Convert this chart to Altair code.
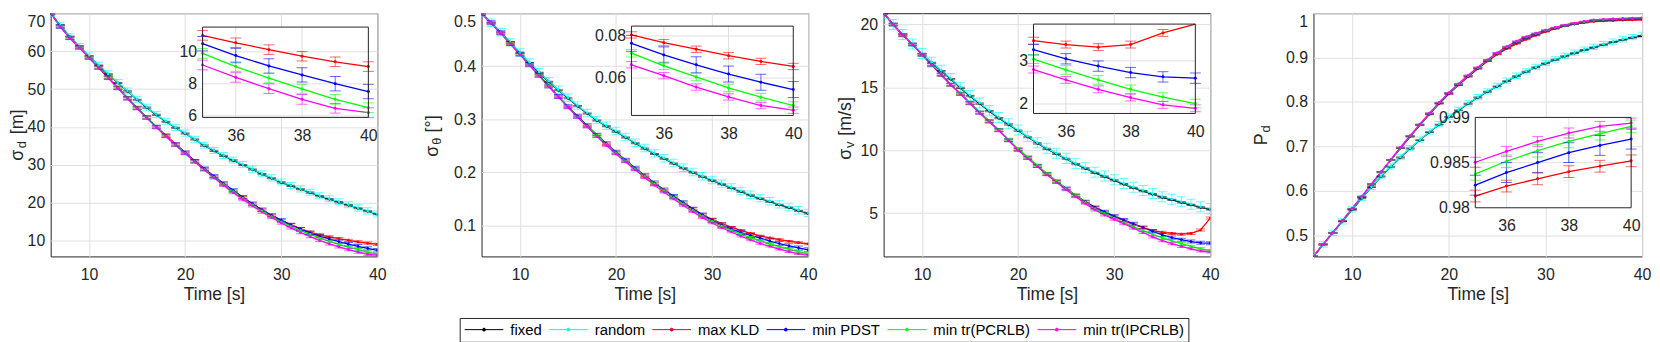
import altair as alt
import pandas as pd

FONT = "Liberation Sans"
TXT = "#262626"
GRID = "#dfdfdf"

TIME = list(range(6, 41))
SERIES = ["fixed", "random", "max KLD", "min PDST", "min tr(PCRLB)", "min tr(IPCRLB)"]
COLORS = ["#000000", "#00ffff", "#ff0000", "#0000ff", "#00ff00", "#ff00ff"]
METHODS = SERIES[2:]

# ---- panel 1: sigma_d [m]
SD_FIXED = [70.0, 66.8, 63.8, 61.2, 58.6, 56.2, 53.9, 51.6, 49.4, 47.2, 45.1, 43.2, 41.4, 39.8, 38.3, 36.7, 35.1, 33.7,
            32.4, 31.2, 30.0, 28.8, 27.6, 26.5, 25.4, 24.5, 23.6, 22.7, 21.8, 21.0, 20.2, 19.4, 18.6, 17.8, 17.0]
SD_RANDOM = [70.0, 66.8, 63.8, 61.2, 58.7, 56.3, 54.0, 51.7, 49.5, 47.3, 45.2, 43.3, 41.5, 39.9, 38.4, 36.8, 35.2, 33.8,
             32.5, 31.3, 30.1, 28.9, 27.7, 26.6, 25.5, 24.6, 23.7, 22.8, 21.9, 21.1, 20.3, 19.5, 18.7, 17.9, 17.1]
SD_KLD = [70.0, 66.5, 63.5, 61.0, 58.4, 55.8, 53.1, 50.4, 47.7, 45.1, 42.6, 40.1, 37.8, 35.5, 33.3, 31.1, 29.0, 27.0,
          25.0, 23.2, 21.4, 19.7, 18.1, 16.7, 15.4, 14.3, 13.25, 12.3, 11.6, 11.03, 10.57, 10.14, 9.73, 9.38, 9.08]
SD_PDST = [70.0, 66.5, 63.5, 61.0, 58.3, 55.7, 53.0, 50.3, 47.6, 45.0, 42.5, 40.0, 37.7, 35.4, 33.2, 31.0, 29.0, 27.0,
           25.1, 23.3, 21.5, 19.8, 18.2, 16.7, 15.4, 14.2, 13.1, 12.1, 11.25, 10.51, 9.77, 9.12, 8.56, 8.01, 7.52]
SD_PCRLB = [70.0, 66.5, 63.5, 61.0, 58.3, 55.7, 53.0, 50.3, 47.6, 45.0, 42.5, 40.0, 37.6, 35.3, 33.1, 30.9, 28.8, 26.8,
            24.9, 23.0, 21.2, 19.5, 17.9, 16.4, 15.0, 13.8, 12.7, 11.7, 10.75, 9.9, 9.08, 8.36, 7.68, 7.03, 6.51]
SD_IPCRLB = [70.0, 66.4, 63.4, 60.9, 58.2, 55.6, 52.9, 50.2, 47.5, 44.9, 42.4, 39.9, 37.5, 35.2, 33.0, 30.8, 28.7, 26.6,
             24.6, 22.7, 20.9, 19.2, 17.6, 16.1, 14.7, 13.4, 12.2, 11.1, 10.1, 9.18, 8.4, 7.7, 7.03, 6.47, 6.2]
SD_ERR = [0.15, 0.8, 0.3, 0.45, 0.3, 0.3]

# ---- panel 2: sigma_theta [deg]
TH_FIXED = [0.500, 0.482, 0.464, 0.445, 0.425, 0.406, 0.388, 0.371, 0.355, 0.340, 0.325, 0.311, 0.298, 0.287, 0.277,
            0.266, 0.255, 0.245, 0.235, 0.226, 0.217, 0.208, 0.200, 0.192, 0.185, 0.178, 0.171, 0.164, 0.157, 0.151,
            0.145, 0.139, 0.134, 0.128, 0.123]
TH_RANDOM = [0.500, 0.482, 0.464, 0.445, 0.426, 0.407, 0.389, 0.372, 0.356, 0.341, 0.326, 0.312, 0.299, 0.288, 0.278,
             0.267, 0.256, 0.246, 0.236, 0.227, 0.218, 0.209, 0.201, 0.193, 0.186, 0.179, 0.172, 0.165, 0.158, 0.152,
             0.146, 0.140, 0.135, 0.129, 0.124]
TH_KLD = [0.500, 0.482, 0.463, 0.443, 0.423, 0.403, 0.383, 0.363, 0.343, 0.324, 0.306, 0.288, 0.271, 0.254, 0.238,
          0.223, 0.208, 0.194, 0.180, 0.167, 0.155, 0.143, 0.132, 0.121, 0.112, 0.104, 0.097, 0.091, 0.0855, 0.0805,
          0.0768, 0.0737, 0.0706, 0.0679, 0.0655]
TH_PDST = [0.500, 0.482, 0.463, 0.443, 0.423, 0.403, 0.383, 0.363, 0.343, 0.324, 0.306, 0.288, 0.270, 0.254, 0.238,
           0.223, 0.208, 0.194, 0.180, 0.167, 0.155, 0.143, 0.131, 0.120, 0.110, 0.101, 0.094, 0.087, 0.0815, 0.0765,
           0.0710, 0.0663, 0.0619, 0.0580, 0.0545]
TH_PCRLB = [0.500, 0.482, 0.463, 0.443, 0.423, 0.403, 0.383, 0.363, 0.343, 0.324, 0.305, 0.287, 0.270, 0.253, 0.237,
            0.222, 0.207, 0.193, 0.179, 0.166, 0.153, 0.141, 0.129, 0.118, 0.108, 0.099, 0.091, 0.084, 0.0775, 0.0718,
            0.0658, 0.0605, 0.0553, 0.0509, 0.0469]
TH_IPCRLB = [0.500, 0.481, 0.462, 0.442, 0.422, 0.402, 0.382, 0.362, 0.342, 0.323, 0.304, 0.286, 0.268, 0.251, 0.235,
             0.220, 0.205, 0.190, 0.176, 0.163, 0.150, 0.138, 0.126, 0.115, 0.105, 0.096, 0.088, 0.080, 0.073, 0.0663,
             0.0611, 0.0557, 0.0510, 0.0469, 0.0447]
TH_ERR = [0.001, 0.007, 0.0015, 0.0038, 0.0018, 0.0015]

# ---- panel 3: sigma_v [m/s]
V_FIXED = [20.9, 20.0, 19.2, 18.4, 17.65, 16.95, 16.3, 15.65, 14.95, 14.3, 13.7, 13.1, 12.55, 12.05, 11.55, 11.05,
           10.55, 10.1, 9.7, 9.3, 8.9, 8.55, 8.2, 7.9, 7.6, 7.3, 7.0, 6.75, 6.5, 6.25, 6.05, 5.85, 5.65, 5.45, 5.3]
V_RANDOM = [20.9, 20.0, 19.2, 18.45, 17.7, 17.0, 16.35, 15.7, 15.0, 14.35, 13.75, 13.15, 12.6, 12.1, 11.6, 11.1,
            10.6, 10.15, 9.75, 9.35, 8.95, 8.6, 8.25, 7.95, 7.65, 7.35, 7.05, 6.8, 6.55, 6.3, 6.1, 5.9, 5.7, 5.5, 5.35]
V_KLD = [20.9, 20.0, 19.15, 18.4, 17.6, 16.8, 16.0, 15.2, 14.5, 13.75, 13.0, 12.3, 11.6, 10.8, 10.05, 9.4, 8.75, 8.1,
         7.5, 6.95, 6.4, 5.9, 5.45, 5.05, 4.75, 4.4, 4.1, 3.85, 3.62, 3.47, 3.38, 3.32, 3.38, 3.65, 4.6]
V_PDST = [20.9, 20.0, 19.15, 18.4, 17.6, 16.8, 16.0, 15.2, 14.5, 13.75, 13.0, 12.3, 11.6, 10.8, 10.05, 9.4, 8.75, 8.1,
          7.5, 6.95, 6.4, 5.9, 5.45, 5.1, 4.75, 4.45, 4.15, 3.85, 3.55, 3.26, 3.05, 2.88, 2.73, 2.63, 2.60]
V_PCRLB = [20.9, 20.0, 19.15, 18.4, 17.6, 16.8, 16.0, 15.2, 14.5, 13.75, 13.0, 12.3, 11.6, 10.85, 10.1, 9.45, 8.8,
           8.15, 7.55, 6.95, 6.4, 5.85, 5.35, 4.95, 4.6, 4.25, 3.9, 3.6, 3.3, 3.04, 2.79, 2.56, 2.34, 2.16, 2.01]
V_IPCRLB = [20.9, 20.0, 19.15, 18.4, 17.6, 16.8, 16.0, 15.2, 14.45, 13.7, 12.95, 12.25, 11.55, 10.8, 10.0, 9.35, 8.7,
            8.05, 7.45, 6.85, 6.3, 5.75, 5.25, 4.85, 4.5, 4.15, 3.8, 3.45, 3.1, 2.8, 2.56, 2.34, 2.15, 1.98, 1.90]
V_ERR = [0.05, 0.4, 0.08, 0.12, 0.1, 0.08]

# ---- panel 4: P_d
PD_FIXED = [0.452, 0.479, 0.505, 0.531, 0.557, 0.583, 0.608, 0.632, 0.654, 0.675, 0.695, 0.714, 0.732, 0.749, 0.766,
            0.781, 0.796, 0.810, 0.823, 0.835, 0.847, 0.858, 0.868, 0.878, 0.887, 0.895, 0.903, 0.910, 0.917, 0.923,
            0.929, 0.935, 0.940, 0.945, 0.949]
PD_RANDOM = [0.452, 0.479, 0.505, 0.531, 0.558, 0.584, 0.609, 0.633, 0.655, 0.676, 0.696, 0.715, 0.733, 0.750, 0.767,
             0.782, 0.797, 0.811, 0.824, 0.836, 0.848, 0.859, 0.869, 0.879, 0.888, 0.896, 0.904, 0.911, 0.918, 0.924,
             0.930, 0.936, 0.941, 0.946, 0.951]
PD_KLD = [0.452, 0.479, 0.505, 0.532, 0.559, 0.586, 0.614, 0.642, 0.669, 0.696, 0.722, 0.748, 0.772, 0.796, 0.818,
          0.838, 0.857, 0.875, 0.892, 0.907, 0.920, 0.931, 0.941, 0.950, 0.958, 0.965, 0.971, 0.9755, 0.9788, 0.9813,
          0.9824, 0.9832, 0.9840, 0.9846, 0.9852]
PD_PDST = [0.452, 0.479, 0.505, 0.532, 0.559, 0.586, 0.614, 0.642, 0.669, 0.696, 0.722, 0.748, 0.773, 0.797, 0.819,
           0.839, 0.858, 0.876, 0.893, 0.909, 0.922, 0.934, 0.944, 0.952, 0.960, 0.966, 0.9715, 0.9757, 0.9795, 0.9825,
           0.9839, 0.9850, 0.9861, 0.9869, 0.9876]
PD_PCRLB = [0.452, 0.479, 0.505, 0.532, 0.559, 0.586, 0.614, 0.642, 0.669, 0.697, 0.723, 0.749, 0.774, 0.798, 0.820,
            0.840, 0.859, 0.877, 0.894, 0.910, 0.924, 0.936, 0.946, 0.954, 0.961, 0.967, 0.9725, 0.9768, 0.9805,
            0.98375, 0.98515, 0.98632, 0.98735, 0.9882, 0.98901]
PD_IPCRLB = [0.452, 0.479, 0.506, 0.533, 0.560, 0.587, 0.615, 0.643, 0.670, 0.698, 0.724, 0.750, 0.775, 0.799, 0.821,
             0.841, 0.860, 0.878, 0.895, 0.911, 0.925, 0.937, 0.947, 0.955, 0.962, 0.968, 0.9735, 0.978, 0.9817,
             0.98504, 0.98625, 0.98735, 0.98827, 0.98901, 0.98938]
PD_ERR = [0.001, 0.006, 0.00065, 0.0011, 0.0007, 0.00055]

# axis limits / ticks
X_DOMAIN = [6, 40]
X_TICKS = [10, 20, 30, 40]
Y_DOMAINS = [[5.9, 70], [0.042, 0.5], [1.55, 20.9], [0.452, 1.0]]
Y_TICKS = [[10, 20, 30, 40, 50, 60, 70], [0.1, 0.2, 0.3, 0.4, 0.5], [5, 10, 15, 20], [0.5, 0.6, 0.7, 0.8, 0.9, 1.0]]
INSET_X_DOMAIN = [35, 40]
INSET_X_TICKS = [36, 38, 40]
INSET_Y_DOMAINS = [[5.9, 11.55], [0.0422, 0.0847], [1.78, 3.855], [0.98, 0.99]]
INSET_Y_TICKS = [[6, 8, 10], [0.06, 0.08], [2, 3], [0.98, 0.985, 0.99]]

H = 245
WIDTHS = [329, 329, 329, 331]
GAPS = [105, 76, 104]
# inset boxes in plot-area pixels: x0, x1, y0(top), y1(bottom)
INSET_BOX = [(153, 320, 14, 105), (151, 314, 13, 103), (151, 314, 11, 101), (163, 320, 105, 196)]
# y title pieces: (text, x, y, fontsize)
YTITLES = [
    [("σ", -28, 143, 18), ("d", -25, 132.5, 13), ("[m]", -28, 109.5, 18)],
    [("σ", -44, 139, 18), ("θ", -41, 129, 13), ("[°]", -44, 111.5, 18)],
    [("σ", -33, 142, 18), ("v", -30, 132.5, 13), ("[m/s]", -33, 104, 18)],
    [("P", -47, 127, 18), ("d", -44, 116.5, 13)],
]

LEG_PATH = "M-3,0H3M-0.23,0A0.23,0.23,0,1,0,0.23,0A0.23,0.23,0,1,0,-0.23,0Z"
LEGEND = alt.Legend(orient="none", legendX=412, legendY=307, direction="horizontal", columns=6, title=None,
                    symbolType=LEG_PATH, symbolSize=169, symbolStrokeWidth=1, symbolOffset=13, labelFont=FONT,
                    labelFontSize=15, labelColor="#000000", strokeColor=TXT, fillColor="white", padding=4,
                    columnPadding=5, labelOffset=19)

ONE = pd.DataFrame({"k": [0]})
FMT = ".6~g"


def long_df(arrays, errs):
    rows = []
    for name, vals, e in zip(SERIES, arrays, errs):
        for t, v in zip(TIME, vals):
            rows.append(dict(t=t, v=v, lo=v - e, hi=v + e, series=name))
    return pd.DataFrame(rows)


def build(i, arrays, errs):
    df = long_df(arrays, errs)
    color_sc = alt.Scale(domain=SERIES, range=COLORS)
    xs = alt.Scale(domain=X_DOMAIN, nice=False, zero=False)
    ys = alt.Scale(domain=Y_DOMAINS[i], nice=False, zero=False)
    xax = alt.Axis(values=X_TICKS, title="Time [s]", grid=True, labelPadding=10, titlePadding=3, labelFlush=False)
    yax = alt.Axis(values=Y_TICKS[i], title=None, grid=True, labelPadding=6, labelFlush=True, format=FMT)
    X = alt.X("t:Q", scale=xs, axis=xax)

    def Y(f):
        return alt.Y(f, type="quantitative", scale=ys, axis=yax)

    base = alt.Chart(df)
    line = base.mark_line(strokeWidth=1.3, clip=True).encode(
        X, Y("v"), color=alt.Color("series:N", scale=color_sc, legend=LEGEND))
    pts = base.mark_circle(size=7, opacity=1, clip=True).encode(
        X, Y("v"), fill=alt.Fill("series:N", scale=color_sc, legend=None))
    rule = base.mark_rule(strokeWidth=1, opacity=0.6, clip=True).encode(
        X, Y("lo"), y2="hi:Q", stroke=alt.Stroke("series:N", scale=color_sc, legend=None))
    cap_lo = base.mark_tick(orient="horizontal", size=9, thickness=1, opacity=0.6, clip=True).encode(
        X, Y("lo"), fill=alt.Fill("series:N", scale=color_sc, legend=None))
    cap_hi = base.mark_tick(orient="horizontal", size=9, thickness=1, opacity=0.6, clip=True).encode(
        X, Y("hi"), fill=alt.Fill("series:N", scale=color_sc, legend=None))
    titles = [alt.Chart(ONE).mark_text(text=t, angle=270, fontSize=s, font=FONT, color=TXT, align="center",
                                       baseline="alphabetic").encode(x=alt.value(x), y=alt.value(y))
              for (t, x, y, s) in YTITLES[i]]
    main = alt.layer(line, rule, cap_lo, cap_hi, pts, *titles)

    # inset
    x0, x1, y0, y1 = INSET_BOX[i]
    ydom = INSET_Y_DOMAINS[i]
    ixs = alt.Scale(domain=INSET_X_DOMAIN, range=[x0, x1], nice=False, zero=False)
    iys = alt.Scale(domain=ydom, range=[y1, y0], nice=False, zero=False, clamp=True)
    ixax = alt.Axis(orient="bottom", offset=y1 - H, values=INSET_X_TICKS, grid=False, title=None, labelPadding=10,
                    labelFlush=False, zindex=1)
    iyax = alt.Axis(orient="left", offset=-x0, values=INSET_Y_TICKS[i], grid=False, title=None, labelPadding=6,
                    labelFlush=False, format=FMT, zindex=1)

    def IX(f):
        return alt.X(f, type="quantitative", scale=ixs, axis=ixax)

    def IY(f):
        return alt.Y(f, type="quantitative", scale=iys, axis=iyax)

    box = pd.DataFrame({"bx0": [INSET_X_DOMAIN[0]], "bx1": [INSET_X_DOMAIN[1]], "by0": [ydom[0]], "by1": [ydom[1]]})
    bg = alt.Chart(box).mark_rect(fill="white", strokeWidth=0).encode(IX("bx0"), IY("by0"), x2="bx1:Q", y2="by1:Q")
    frame = alt.Chart(box).mark_rect(filled=False, stroke=TXT, strokeWidth=1).encode(
        IX("bx0"), IY("by0"), x2="bx1:Q", y2="by1:Q")
    gv = pd.DataFrame({"gx": [v for v in INSET_X_TICKS if INSET_X_DOMAIN[0] < v < INSET_X_DOMAIN[1]]})
    gv["gy0"] = ydom[0]
    gv["gy1"] = ydom[1]
    gh = pd.DataFrame({"gy": [v for v in INSET_Y_TICKS[i] if ydom[0] < v < ydom[1]]})
    gh["gx0"] = INSET_X_DOMAIN[0]
    gh["gx1"] = INSET_X_DOMAIN[1]
    gridv = alt.Chart(gv).mark_rule(color=GRID, strokeWidth=1).encode(IX("gx"), IY("gy0"), y2="gy1:Q")
    gridh = alt.Chart(gh).mark_rule(color=GRID, strokeWidth=1).encode(IX("gx0"), IY("gy"), x2="gx1:Q")

    idf = df[(df.t >= INSET_X_DOMAIN[0]) & (df.series.isin(METHODS))]
    ib = alt.Chart(idf)
    inside = f"datum.hi <= {ydom[1]} && datum.lo >= {ydom[0]}"
    iline = ib.mark_line(strokeWidth=1.3).encode(
        IX("t"), IY("v"), color=alt.Color("series:N", scale=color_sc, legend=LEGEND))
    ipts = ib.mark_circle(size=9, opacity=1).transform_filter(inside).encode(
        IX("t"), IY("v"), fill=alt.Fill("series:N", scale=color_sc, legend=None))
    irule = ib.mark_rule(strokeWidth=1, opacity=0.6).transform_filter(inside).encode(
        IX("t"), IY("lo"), y2="hi:Q", stroke=alt.Stroke("series:N", scale=color_sc, legend=None))
    icap_lo = ib.mark_tick(orient="horizontal", size=11, thickness=1, opacity=0.6).transform_filter(inside).encode(
        IX("t"), IY("lo"), fill=alt.Fill("series:N", scale=color_sc, legend=None))
    icap_hi = ib.mark_tick(orient="horizontal", size=11, thickness=1, opacity=0.6).transform_filter(inside).encode(
        IX("t"), IY("hi"), fill=alt.Fill("series:N", scale=color_sc, legend=None))
    inset = alt.layer(bg, gridv, gridh, iline, irule, icap_lo, icap_hi, ipts, frame)

    return alt.layer(main, inset).resolve_scale(x="independent", y="independent").properties(
        width=WIDTHS[i], height=H)


def spacer(w):
    return alt.Chart(ONE).mark_point(opacity=0).encode(x=alt.value(0), y=alt.value(0)).properties(
        width=w, height=H, view=alt.ViewBackground(stroke="transparent"))


p1 = build(0, [SD_FIXED, SD_RANDOM, SD_KLD, SD_PDST, SD_PCRLB, SD_IPCRLB], SD_ERR)
p2 = build(1, [TH_FIXED, TH_RANDOM, TH_KLD, TH_PDST, TH_PCRLB, TH_IPCRLB], TH_ERR)
p3 = build(2, [V_FIXED, V_RANDOM, V_KLD, V_PDST, V_PCRLB, V_IPCRLB], V_ERR)
p4 = build(3, [PD_FIXED, PD_RANDOM, PD_KLD, PD_PDST, PD_PCRLB, PD_IPCRLB], PD_ERR)

chart = alt.hconcat(p1, spacer(GAPS[0]), p2, spacer(GAPS[1]), p3, spacer(GAPS[2]), p4,
                    spacing=0, bounds="flush").properties(
    padding={"left": 0, "top": 0, "right": 0, "bottom": 0}
).configure_view(stroke=TXT, strokeWidth=1).configure_axis(
    labelFont=FONT, labelFontSize=16, labelColor=TXT, titleFont=FONT, titleFontSize=17.6, titleColor=TXT,
    titleFontWeight="normal", gridColor=GRID, gridWidth=1, ticks=False, domain=False
).configure_legend(symbolLimit=0)

chart.save("out.html", embed_options={"renderer": "svg", "actions": False})
